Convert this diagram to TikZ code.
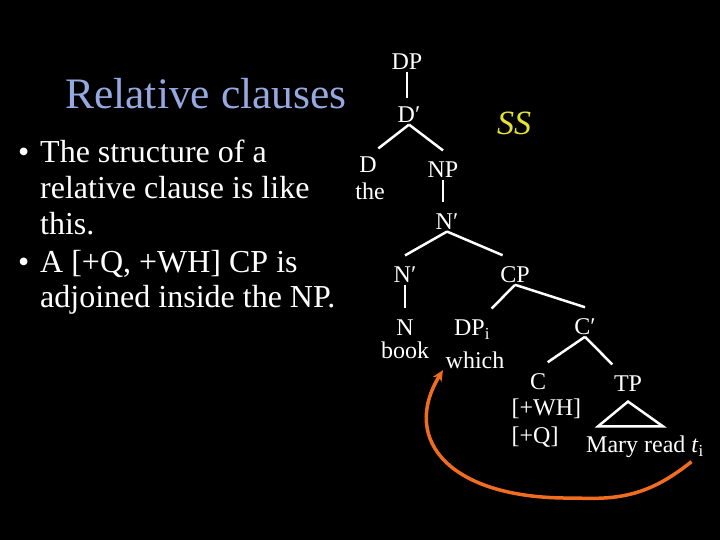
\documentclass[tikz,border=0pt]{standalone}
\usepackage{fontspec}
\setmainfont{Liberation Serif}
\usetikzlibrary{positioning,calc,arrows.meta}

\definecolor{titleblue}{RGB}{150,168,224}
\definecolor{ssyellow}{RGB}{228,228,50}
\definecolor{moveorange}{RGB}{240,108,30}

\begin{document}
\begin{tikzpicture}[x=1pt, y=-1pt,
    cat/.style={text=white, font=\fontsize{24}{26}\selectfont, inner sep=1.5pt},
    body/.style={text=white, font=\fontsize{32}{36}\selectfont, inner sep=0pt, anchor=base west},
    branch/.style={draw=white, line width=2.5pt},
    movearrow/.style={draw=moveorange, line width=3.5pt, -{Stealth[length=11pt, width=10pt]}}
]

% Background
\fill[black] (0,0) rectangle (720,540);

% Title
\node[anchor=base west, text=titleblue, font=\fontsize{43.5}{46}\selectfont, inner sep=0pt] (title) at (65,109) {Relative clauses};
\node[text=ssyellow, font=\fontsize{34}{36}\selectfont\itshape] (ss) at (514,123) {SS};

% Bullet points
\node[body] (bull1) at (18,163) {•};
\node[body] (line1) at (40,163) {The structure of a};
\node[body] (line2) at (40,199) {relative clause is like};
\node[body] (line3) at (40,235) {this.};
\node[body] (bull2) at (18,272) {•};
\node[body] (line4) at (40,272) {A [+Q, +WH] CP is};
\node[body] (line5) at (40,307) {adjoined inside the NP.};

% Tree
\node[cat] (DP) at (407,62) {DP};
\node[cat] (Dbar) at (409,115) {D′};
\node[cat] (D) at (368,165) {D};
\node[cat] (the) at (370,191) {the};
\node[cat] (NP) at (443,170) {NP};
\node[cat] (Nbar) at (447,222) {N′};
\node[cat] (Nbarlow) at (405,275) {N′};
\node[cat] (CP) at (515,275) {CP};
\node[cat] (N) at (405,328) {N};
\node[cat] (book) at (405,350) {book};
\node[cat] (DPi) at (472,330) {DP\textsubscript{i}};
\node[cat] (which) at (475,360) {which};
\node[cat] (Cbar) at (585,327) {C′};
\node[cat] (C) at (538,382) {C};
\node[cat, anchor=west] (wh) at (510,409) {[+WH]};
\node[cat, anchor=west] (q) at (510,437) {[+Q]};
\node[cat] (TP) at (628,384) {TP};
\node[cat] (mary) at (645,447) {Mary read \textit{t}\textsubscript{i}};

% Branches
\draw[branch] (DP.south) -- ([yshift=7pt]DP.south |- Dbar.north);
\draw[branch] (Dbar.south) -- ([yshift=7pt]D.north east);
\draw[branch] (Dbar.south) -- ([yshift=10pt]NP.north);
\draw[branch] (NP.south) -- ([yshift=10pt]NP.south |- Nbar.north);
\draw[branch] (Nbar.south) -- ([yshift=10pt]Nbarlow.north);
\draw[branch] (Nbar.south) -- ([xshift=4pt,yshift=10pt]CP.north west);
\draw[branch] (Nbarlow.south) -- ([yshift=10pt]Nbarlow.south |- N.north);
\draw[branch] (CP.south) -- ([yshift=10pt]DPi.north east);
\draw[branch] (CP.south) -- ([yshift=10pt]Cbar.north);
\draw[branch] (Cbar.south) -- ([yshift=10pt]C.north east);
\draw[branch] (Cbar.south) -- ([yshift=10pt]TP.north west);
\draw[branch] ([yshift=-8pt]TP.south) -- ($(mary.north)+(-47,-8)$) -- ($(mary.north)+(18,-8)$) -- cycle;

% Movement
\draw[movearrow] ([xshift=-14pt,yshift=-2pt]mary.south east) .. controls (650,495) and (620,500) .. (575,498)
    .. controls (450,500) and (400,440) .. ([xshift=-1pt]which.south west);

\end{tikzpicture}
\end{document}
